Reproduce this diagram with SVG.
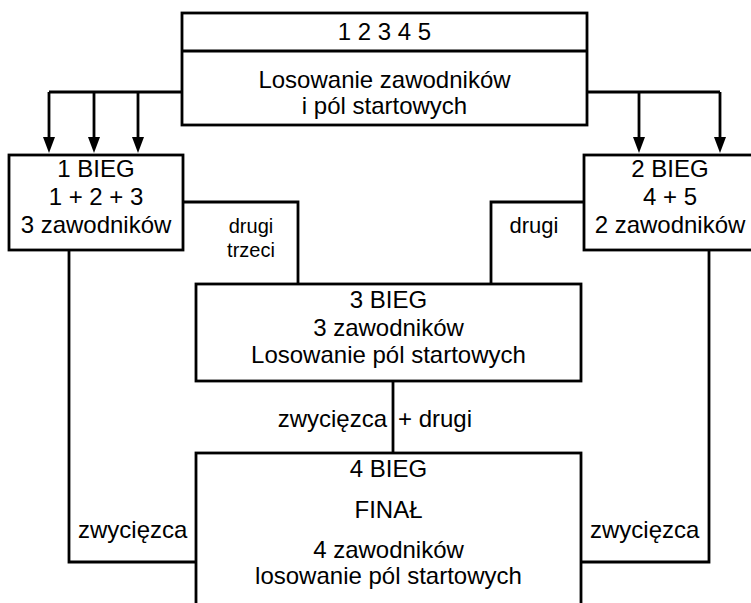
<svg xmlns="http://www.w3.org/2000/svg" width="751" height="603" viewBox="0 0 751 603">
<style>
.box{fill:#fff;stroke:#000;stroke-width:2.8}
.ln{fill:none;stroke:#000;stroke-width:2.8}
text{font-family:"Liberation Sans",Arial,sans-serif;font-size:24px;fill:#000}
.c{text-anchor:middle}
.e{text-anchor:end}
</style>
<defs>
<marker id="arr" markerWidth="16" markerHeight="12" refX="0" refY="6" orient="auto" markerUnits="userSpaceOnUse" viewBox="0 0 16 12">
<path d="M0,0 L16,6 L0,12 Z" fill="#000"/>
</marker>
</defs>
<g id="connectors">
<path class="ln" d="M49,92 H185"/>
<path class="ln" d="M49,92 V137" marker-end="url(#arr)"/>
<path class="ln" d="M94,92 V137" marker-end="url(#arr)"/>
<path class="ln" d="M138,92 V137" marker-end="url(#arr)"/>
<path class="ln" d="M587,92 H720"/>
<path class="ln" d="M639,92 V137" marker-end="url(#arr)"/>
<path class="ln" d="M720,92 V137" marker-end="url(#arr)"/>
<path class="ln" d="M183,202 H298 V284"/>
<path class="ln" d="M584,202 H491 V284"/>
<path class="ln" d="M393,381 V453"/>
<path class="ln" d="M69,250 V562 H196"/>
<path class="ln" d="M709,250 V562 H581"/>
<text x="251" y="233" class="c" style="font-size:20px">drugi</text>
<text x="251" y="257" class="c" style="font-size:20px">trzeci</text>
<text x="534" y="233" class="c" style="font-size:22px">drugi</text>
<text x="387" y="427" class="e">zwycięzca</text>
<text x="398" y="427">+ drugi</text>
<text x="78" y="538">zwycięzca</text>
<text x="590" y="538">zwycięzca</text>
</g>
<g id="start">
<rect class="box" x="182" y="13" width="405" height="112"/>
<path class="ln" d="M182,51 H587"/>
<text x="384.5" y="40" class="c">1 2 3 4 5</text>
<text x="384.5" y="88" class="c">Losowanie zawodników</text>
<text x="384.5" y="114" class="c">i pól startowych</text>
</g>
<g id="bieg1">
<rect class="box" x="9" y="155" width="174" height="95"/>
<text x="96" y="177" class="c">1 BIEG</text>
<text x="96" y="205" class="c">1 + 2 + 3</text>
<text x="96" y="233" class="c">3 zawodników</text>
</g>
<g id="bieg2">
<rect class="box" x="584" y="155" width="175" height="95"/>
<text x="670" y="177" class="c">2 BIEG</text>
<text x="670" y="205" class="c">4 + 5</text>
<text x="670" y="233" class="c">2 zawodników</text>
</g>
<g id="bieg3">
<rect class="box" x="196" y="284" width="385" height="97"/>
<text x="388.5" y="308" class="c">3 BIEG</text>
<text x="388.5" y="336" class="c">3 zawodników</text>
<text x="388.5" y="363" class="c">Losowanie pól startowych</text>
</g>
<g id="bieg4">
<rect class="box" x="196" y="453" width="385" height="160"/>
<text x="388.5" y="477" class="c">4 BIEG</text>
<text x="388.5" y="518" class="c">FINAŁ</text>
<text x="388.5" y="558" class="c">4 zawodników</text>
<text x="388.5" y="584" class="c">losowanie pól startowych</text>
</g>
</svg>
